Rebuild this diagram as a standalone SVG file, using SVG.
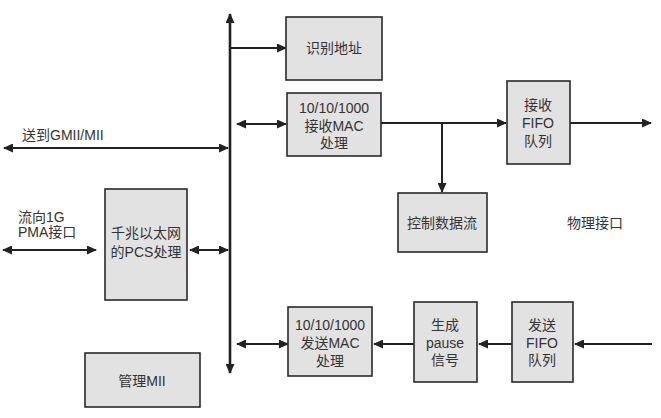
<svg xmlns="http://www.w3.org/2000/svg" width="661" height="418" viewBox="0 0 661 418">
<style>
.box{fill:#e2e2e2;stroke:#2a2a2a;stroke-width:1.6}
.t{font-family:"Liberation Sans","Noto Sans CJK SC",sans-serif;font-size:14px;fill:#333;text-anchor:middle}
.tl{font-family:"Liberation Sans","Noto Sans CJK SC",sans-serif;font-size:14px;fill:#333}
.c{fill:none;stroke:#222;stroke-width:2}
</style>
<defs>
<marker id="ah" markerUnits="userSpaceOnUse" markerWidth="10" markerHeight="9" refX="9" refY="4.5" orient="auto-start-reverse">
<path d="M0,0 L10,4.5 L0,9 z" fill="#222"/>
</marker>
</defs>
<rect width="661" height="418" fill="#fff"/>
<g id="connectors">
<line class="c" x1="230" y1="14" x2="230" y2="373" style="stroke-width:2.6" marker-start="url(#ah)" marker-end="url(#ah)"/>
<line class="c" x1="230" y1="48" x2="286" y2="48" marker-end="url(#ah)"/>
<line class="c" x1="237" y1="124" x2="286" y2="124" marker-start="url(#ah)" marker-end="url(#ah)"/>
<line class="c" x1="4" y1="148" x2="228" y2="148" marker-start="url(#ah)" marker-end="url(#ah)"/>
<line class="c" x1="381" y1="123" x2="506" y2="123" marker-end="url(#ah)"/>
<line class="c" x1="442" y1="123" x2="442" y2="192" marker-end="url(#ah)"/>
<line class="c" x1="570" y1="123" x2="651" y2="123" marker-end="url(#ah)"/>
<line class="c" x1="3" y1="250" x2="96" y2="250" marker-start="url(#ah)" marker-end="url(#ah)"/>
<line class="c" x1="190" y1="250" x2="228" y2="250" marker-start="url(#ah)" marker-end="url(#ah)"/>
<line class="c" x1="237" y1="344" x2="288" y2="344" marker-start="url(#ah)" marker-end="url(#ah)"/>
<line class="c" x1="414" y1="344" x2="374" y2="344" marker-end="url(#ah)"/>
<line class="c" x1="512" y1="344" x2="479" y2="344" marker-end="url(#ah)"/>
<line class="c" x1="652" y1="344" x2="575" y2="344" marker-end="url(#ah)"/>
</g>
<g id="n-addr">
<rect class="box" x="286" y="17" width="96" height="63"/>
<text class="t" x="334" y="53">识别地址</text>
</g>
<g id="n-rxmac">
<rect class="box" x="287" y="93" width="94" height="63"/>
<text class="t" x="334" y="113">10/10/1000</text>
<text class="t" x="334" y="131">接收MAC</text>
<text class="t" x="334" y="148">处理</text>
</g>
<g id="n-rxfifo">
<rect class="box" x="507" y="81" width="63" height="83"/>
<text class="t" x="538" y="110">接收</text>
<text class="t" x="538" y="128">FIFO</text>
<text class="t" x="538" y="146">队列</text>
</g>
<g id="n-ctrl">
<rect class="box" x="398" y="193" width="89" height="59"/>
<text class="t" x="442" y="228">控制数据流</text>
</g>
<g id="n-phy">
<text class="t" x="595" y="228">物理接口</text>
</g>
<g id="n-gmii">
<text class="tl" x="22" y="140">送到GMII/MII</text>
</g>
<g id="n-pma">
<text class="tl" x="18" y="222">流向1G</text>
<text class="tl" x="18" y="237">PMA接口</text>
</g>
<g id="n-pcs">
<rect class="box" x="105" y="189" width="82" height="111"/>
<text class="t" x="146" y="238">千兆以太网</text>
<text class="t" x="146" y="257">的PCS处理</text>
</g>
<g id="n-mii">
<rect class="box" x="85" y="353" width="115" height="54"/>
<text class="t" x="142" y="386">管理MII</text>
</g>
<g id="n-txmac">
<rect class="box" x="288" y="307" width="84" height="69"/>
<text class="t" x="330" y="330">10/10/1000</text>
<text class="t" x="330" y="348">发送MAC</text>
<text class="t" x="330" y="366">处理</text>
</g>
<g id="n-pause">
<rect class="box" x="414" y="302" width="63" height="80"/>
<text class="t" x="445" y="330">生成</text>
<text class="t" x="445" y="348">pause</text>
<text class="t" x="445" y="365">信号</text>
</g>
<g id="n-txfifo">
<rect class="box" x="512" y="302" width="61" height="80"/>
<text class="t" x="542" y="330">发送</text>
<text class="t" x="542" y="348">FIFO</text>
<text class="t" x="542" y="365">队列</text>
</g>
</svg>
